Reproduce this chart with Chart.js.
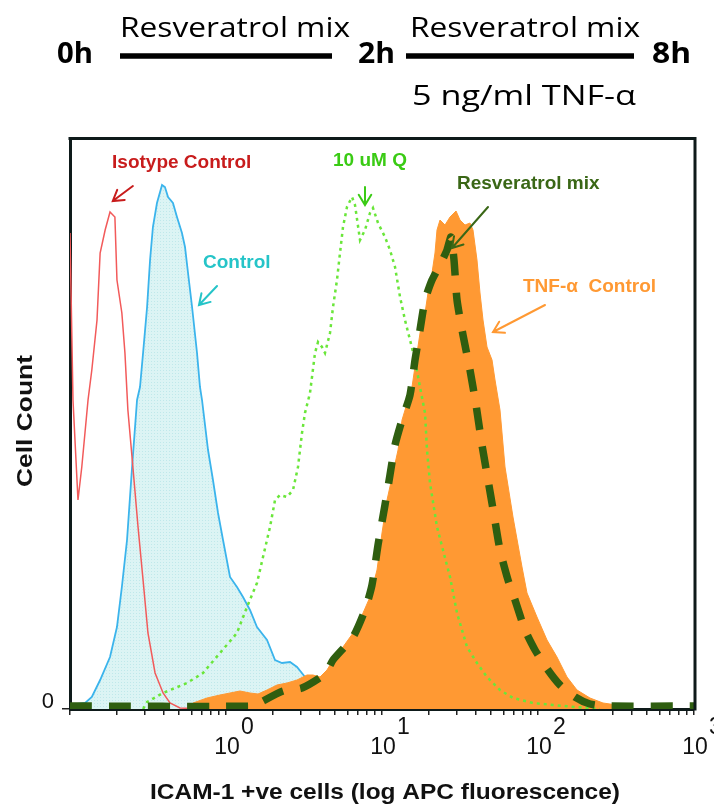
<!DOCTYPE html>
<html>
<head>
<meta charset="utf-8">
<script src="https://cdn.jsdelivr.net/npm/chart.js@4.4.1/dist/chart.umd.min.js"></script>
<style>
  html, body { margin: 0; padding: 0; background: #ffffff; }
  canvas { display: block; }
</style>
</head>
<body>
<canvas id="histogram" width="714" height="805"></canvas>
<script>
// ICAM-1 histograms: APC fluorescence (log) vs cell count
const isotypeFluor = [0.1, 0.1045, 0.1125, 0.119, 0.1305, 0.138, 0.149, 0.156, 0.168, 0.1805, 0.194, 0.200, 0.215, 0.225, 0.235, 0.253, 0.273, 0.294, 0.316, 0.351, 0.395, 0.4375, 0.507, 0.7];
const isotypeCount = [476, 309, 209, 242, 309, 339, 389, 456, 479, 497, 492, 429, 396, 356, 299, 242, 182, 129, 76, 36, 16, 6, 1, 0];

const controlFluor = [0.1, 0.1125, 0.125, 0.138, 0.156, 0.1805, 0.200, 0.215, 0.232, 0.250, 0.269, 0.281, 0.294, 0.312, 0.326, 0.340, 0.361, 0.389, 0.406, 0.425, 0.457, 0.485, 0.522, 0.546, 0.571, 0.606, 0.652, 0.681, 0.702, 0.767, 0.825, 0.889, 0.957, 1.061, 1.176, 1.285, 1.425, 1.580, 1.832, 2.062, 2.286, 2.573, 2.852, 3.209, 3.558, 3.889, 4.311, 5.0];
const controlCount = [2, 5, 6, 12, 29, 52, 82, 122, 169, 242, 309, 322, 356, 402, 449, 482, 506, 524, 522, 512, 506, 492, 476, 462, 436, 402, 356, 322, 309, 259, 229, 196, 169, 132, 122, 112, 99, 82, 69, 49, 46, 47, 42, 32, 19, 9, 3, 0];

const quercetinFluor = [0.294, 0.312, 0.395, 0.562, 0.712, 0.915, 1.176, 1.363, 1.580, 1.727, 1.915, 2.062, 2.219, 2.460, 2.689, 2.894, 3.07, 3.209, 3.455, 3.72, 3.889, 4.124, 4.311, 4.642, 4.852, 5.146, 5.38, 5.623, 5.965, 6.424, 6.714, 7.228, 7.78, 8.377, 8.756, 9.428, 10.45, 11.25, 12.12, 13.05, 14.04, 15.12, 16.28, 17.52, 18.87, 19.43, 20.31, 22.52, 24.6, 27.29, 30.26, 35.07, 40.64, 47.11, 57.07, 69.14, 92.9, 124.8, 172.7, 249.7];
const quercetinCount = [0, 7, 16, 26, 36, 56, 76, 102, 126, 152, 182, 209, 214, 212, 219, 242, 276, 296, 316, 356, 367, 362, 356, 376, 402, 429, 456, 482, 502, 512, 504, 469, 479, 496, 501, 486, 472, 459, 442, 412, 389, 369, 349, 322, 296, 259, 226, 182, 159, 132, 96, 62, 46, 32, 19, 11, 6, 4, 2, 0];

const tnfFluor = [0.588, 0.6145, 0.755, 0.915, 1.061, 1.229, 1.425, 1.604, 1.832, 2.123, 2.460, 2.852, 3.305, 3.611, 4.006, 4.440, 4.852, 5.623, 6.52, 7.228, 8.377, 9.29, 10.0, 10.77, 11.76, 12.67, 13.44, 15.57, 16.77, 18.05, 18.87, 19.72, 20.92, 21.86, 22.52, 23.54, 25.34, 27.29, 29.82, 31.62, 34.04, 36.65, 38.31, 40.64, 42.49, 44.41, 47.11, 50.73, 53.03, 57.07, 61.45, 69.14, 78.97, 85.03, 98.5, 114.2, 132.3, 153.4, 177.8, 215.4, 261.0, 320.9, 388.9];
const tnfCount = [0, 6, 11, 14, 16, 18, 16, 15, 19, 24, 26, 29, 34, 34, 32, 39, 49, 62, 76, 89, 112, 139, 176, 209, 236, 259, 289, 322, 356, 389, 396, 416, 436, 456, 479, 489, 484, 492, 498, 489, 484, 486, 479, 449, 416, 389, 362, 349, 329, 299, 242, 192, 142, 116, 92, 69, 52, 32, 19, 11, 6, 4, 0];

const resveratrolFluor = [0.1, 1.535, 1.727, 2.319, 3.07, 4.311, 4.852, 6.52, 7.78, 8.627, 9.428, 10.45, 11.25, 12.12, 13.44, 15.12, 16.28, 17.52, 18.87, 20.92, 23.54, 26.1, 27.69, 28.94, 30.26, 33.05, 36.65, 40.06, 43.75, 47.82, 52.24, 57.07, 64.24, 71.24, 82.54, 95.67, 115.9, 138.4, 172.7, 215.4, 268.9, 1000];
const resveratrolCount = [3, 3, 8, 18, 21, 35, 49, 72, 99, 124, 164, 204, 234, 264, 289, 314, 349, 379, 409, 429, 444, 459, 472, 449, 409, 374, 339, 304, 264, 229, 194, 159, 129, 109, 79, 59, 39, 24, 12, 5, 3, 3];

// axis ticks
const decadeStarts = [0.1, 1, 10, 100];
const decadeSteps = [1, 2, 3, 4, 5, 6, 7, 8, 9];
const labelledTicks = [1, 10, 100, 1000];
const tickBase = ['10', '10', '10', '10'];
const tickExponent = ['0', '1', '2', '3'];
const countTicks = [0];
const countTickLabels = ['0'];

const xTitle = 'ICAM-1 +ve cells (log APC fluorescence)';
const yTitle = 'Cell Count';

// treatment timeline above the plot
const timePoints = ['0h', '2h', '8h'];
const stageLabels = ['Resveratrol mix', 'Resveratrol mix'];
const stimulusLabel = '5 ng/ml TNF-\u03b1';

// curve annotations, anchored in data coordinates
const notes = [
  { text: 'Isotype Control', color: '#c81c1c', x: 0.186, y: 541, arrow: [[0.253, 523], [0.188, 508]] },
  { text: 'Control', color: '#25c4c8', x: 0.712, y: 441, arrow: [[0.876, 423], [0.671, 404]] },
  { text: '10 uM Q', color: '#3acb14', x: 4.852, y: 543, arrow: [[7.78, 522], [7.78, 504]] },
  { text: 'Resveratrol mix', color: '#3a6716', x: 30.26, y: 520, arrow: [[47.82, 502], [28.1, 461]] },
  { text: 'TNF-\u03b1  Control', color: '#ff9933', x: 80.14, y: 417, arrow: [[110.9, 404], [51.46, 377]] }
];

const pairs = (xs, ys) => xs.map((x, i) => ({ x: x, y: ys[i] }));

// dotted light-cyan fill used under the Control histogram
function dotPattern() {
  const c = document.createElement('canvas');
  c.width = 3; c.height = 3;
  const g = c.getContext('2d');
  g.fillStyle = '#dcf4f4';
  g.fillRect(0, 0, 3, 3);
  g.fillStyle = '#bfe8ea';
  g.fillRect(1, 1, 1, 1);
  return g.createPattern(c, 'repeat');
}

function fitText(ctx, text, x, y, width, centered) {
  const w = ctx.measureText(text).width;
  ctx.save();
  ctx.translate(x, y);
  ctx.scale(width / w, 1);
  ctx.textAlign = 'left';
  ctx.fillText(text, centered ? -w / 2 : 0, 0);
  ctx.restore();
}

function drawArrow(ctx, x1, y1, x2, y2) {
  const a = Math.atan2(y2 - y1, x2 - x1);
  const len = 12, spread = 0.55;
  ctx.beginPath();
  ctx.moveTo(x1, y1); ctx.lineTo(x2, y2);
  ctx.moveTo(x2 - len * Math.cos(a - spread), y2 - len * Math.sin(a - spread));
  ctx.lineTo(x2, y2);
  ctx.lineTo(x2 - len * Math.cos(a + spread), y2 - len * Math.sin(a + spread));
  ctx.stroke();
}

const figureText = {
  id: 'figureText',
  afterDatasetsDraw(chart) {
    const { ctx, chartArea: area, scales: { x, y } } = chart;
    ctx.save();
    // frame: top and right edges (left/bottom come from the axes)
    ctx.strokeStyle = '#0e1a1a';
    ctx.lineWidth = 3;
    ctx.beginPath();
    ctx.moveTo(area.left - 1.5, area.top + 0.5);
    ctx.lineTo(area.right + 1, area.top + 0.5);
    ctx.lineTo(area.right + 1, area.bottom + 1.5);
    ctx.stroke();

    // annotations
    ctx.font = 'bold 19px "Liberation Sans", Arial, sans-serif';
    ctx.textBaseline = 'alphabetic';
    notes.forEach(n => {
      ctx.fillStyle = n.color;
      ctx.textAlign = 'left';
      ctx.fillText(n.text, x.getPixelForValue(n.x), y.getPixelForValue(n.y));
      ctx.strokeStyle = n.color;
      ctx.lineWidth = 2;
      ctx.lineCap = 'round';
      drawArrow(ctx,
        x.getPixelForValue(n.arrow[0][0]), y.getPixelForValue(n.arrow[0][1]),
        x.getPixelForValue(n.arrow[1][0]), y.getPixelForValue(n.arrow[1][1]));
    });
    ctx.restore();
  },
  afterDraw(chart) {
    const { ctx, scales: { x, y } } = chart;
    ctx.save();
    ctx.fillStyle = '#111111';
    ctx.textBaseline = 'alphabetic';

    // x tick labels: 10 with superscript exponent
    ctx.font = '23px "Liberation Sans", Arial, sans-serif';
    labelledTicks.forEach((v, i) => {
      const px = x.getPixelForValue(v);
      ctx.textAlign = 'center';
      ctx.fillText(tickBase[i], px + 1, 754);
      ctx.textAlign = 'left';
      ctx.fillText(tickExponent[i], px + 15, 734);
    });
    // y tick label
    ctx.font = '22px "Liberation Sans", Arial, sans-serif';
    ctx.textAlign = 'right';
    countTicks.forEach((v, i) => {
      ctx.fillText(countTickLabels[i], 54, y.getPixelForValue(v) - 1);
    });

    // axis titles
    ctx.font = 'bold 22px "Liberation Sans", Arial, sans-serif';
    fitText(ctx, xTitle, 385, 799, 470, true);
    ctx.save();
    ctx.translate(32, 421);
    ctx.rotate(-Math.PI / 2);
    fitText(ctx, yTitle, 0, 0, 132, true);
    ctx.restore();

    // treatment timeline
    ctx.fillStyle = '#000000';
    ctx.font = 'bold 29px "Open Sans", sans-serif';
    fitText(ctx, timePoints[0], 57, 63, 36, false);
    fitText(ctx, timePoints[1], 358, 63, 37, false);
    fitText(ctx, timePoints[2], 652, 63, 39, false);
    ctx.font = '27px "Open Sans", sans-serif';
    fitText(ctx, stageLabels[0], 120, 37, 230, false);
    fitText(ctx, stageLabels[1], 410, 37, 230, false);
    fitText(ctx, stimulusLabel, 412, 105, 224, false);
    ctx.strokeStyle = '#000000';
    ctx.lineWidth = 5.5;
    ctx.beginPath();
    ctx.moveTo(120, 56); ctx.lineTo(332, 56);
    ctx.moveTo(406, 56); ctx.lineTo(634, 56);
    ctx.stroke();
    ctx.restore();
  }
};

const ctx = document.getElementById('histogram').getContext('2d');
new Chart(ctx, {
  type: 'line',
  data: {
    datasets: [
      {
        label: 'Resveratrol mix',
        data: pairs(resveratrolFluor, resveratrolCount),
        borderColor: '#2f5e10',
        borderWidth: 7.5,
        borderDash: [22, 17],
        borderCapStyle: 'butt',
        tension: 0.2,
        fill: false
      },
      {
        label: '10 uM Q',
        data: pairs(quercetinFluor, quercetinCount),
        borderColor: '#6ae63a',
        borderWidth: 2.5,
        borderDash: [3, 4],
        fill: false
      },
      {
        label: 'Isotype Control',
        data: pairs(isotypeFluor, isotypeCount),
        borderColor: '#f25a5a',
        borderWidth: 1.5,
        fill: false
      },
      {
        label: 'TNF-\u03b1 Control',
        data: pairs(tnfFluor, tnfCount),
        borderColor: '#ff9933',
        borderWidth: 1,
        backgroundColor: '#ff9933',
        fill: 'origin'
      },
      {
        label: 'Control',
        data: pairs(controlFluor, controlCount),
        borderColor: '#3bb4ec',
        borderWidth: 1.8,
        backgroundColor: dotPattern(),
        fill: 'origin'
      }
    ]
  },
  options: {
    responsive: false,
    animation: false,
    layout: { padding: { left: 62, right: 20, top: 138, bottom: 90 } },
    elements: { point: { radius: 0, hoverRadius: 0 }, line: { tension: 0 } },
    plugins: { legend: { display: false }, tooltip: { enabled: false } },
    scales: {
      x: {
        type: 'logarithmic',
        min: 0.1,
        max: 1000,
        afterBuildTicks: scale => {
          const list = [];
          decadeStarts.forEach(d => decadeSteps.forEach(s => list.push({ value: d * s })));
          list.push({ value: 1000 });
          scale.ticks = list;
        },
        ticks: { display: false },
        grid: { drawOnChartArea: false, drawTicks: true, tickLength: 6, color: '#222222', lineWidth: 1.5 },
        border: { display: true, color: '#0e1a1a', width: 3 }
      },
      y: {
        type: 'linear',
        min: 0,
        max: 571,
        afterBuildTicks: scale => { scale.ticks = countTicks.map(v => ({ value: v })); },
        ticks: { display: false },
        grid: { drawOnChartArea: false, drawTicks: true, tickLength: 8, color: '#222222', lineWidth: 1.5 },
        border: { display: true, color: '#0e1a1a', width: 3 }
      }
    }
  },
  plugins: [figureText]
});
</script>
</body>
</html>
